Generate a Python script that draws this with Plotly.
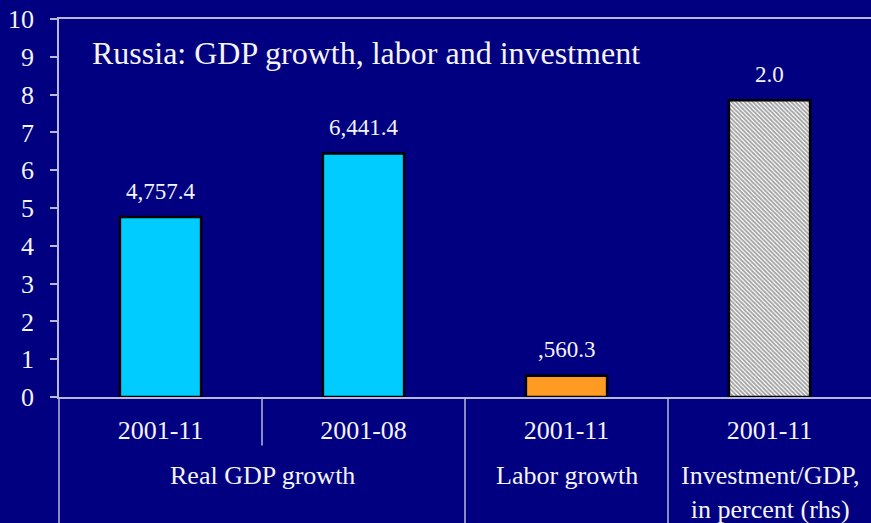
import plotly.graph_objects as go

# Data
periods = ["2001-11", "2001-08", "2001-11", "2001-11"]
values = [4.76, 6.44, 0.56, 7.85]
value_labels = ["4,757.4", "6,441.4", ",560.3", "2.0"]
groups = ["Real GDP growth", "Labor growth", "Investment/GDP,<br>in percent (rhs)"]
group_centers = [0.5, 2, 3]
y_ticks = list(range(0, 11))

BG = "#000080"
TXT = "#f4f4f8"
AXC = "#b8b8d8"
FONT = "Liberation Serif, Times New Roman, serif"

x = list(range(len(values)))
colors = ["#00ccff", "#00ccff", "#ff9a22", "white"]
shapes_pat = ["", "", "", "\\"]

fig = go.Figure()
fig.add_trace(go.Bar(
    x=x, y=values,
    width=0.4,
    marker=dict(
        color=colors,
        line=dict(color="black", width=2.5),
        pattern=dict(shape=shapes_pat, fgcolor="black", bgcolor="white",
                     size=3, solidity=0.6, fillmode="overlay"),
    ),
    hoverinfo="skip",
))

annotations = []
for xi, v, lab in zip(x, values, value_labels):
    annotations.append(dict(x=xi, y=v, xref="x", yref="y", text=lab, showarrow=False,
                            yshift=26, font=dict(family=FONT, size=23, color=TXT)))

n = len(values)
def frac(xv):
    return (xv + 0.5) / n

for gx, g in zip(group_centers, groups):
    annotations.append(dict(x=frac(gx), y=-0.163, xref="paper", yref="paper", text=g,
                            showarrow=False, xanchor="center", yanchor="top", align="center",
                            font=dict(family=FONT, size=26, color=TXT)))

annotations.append(dict(x=0.038, y=0.962, xref="paper", yref="paper",
                        text="Russia: GDP growth, labor and investment",
                        showarrow=False, xanchor="left", yanchor="top",
                        font=dict(family=FONT, size=32, color=TXT)))

shapes = [
    # left axis continues through the category label area
    dict(type="line", xref="paper", yref="paper", x0=0, x1=0, y0=0, y1=-0.34,
         line=dict(color=AXC, width=1.5)),
    # group separators
    dict(type="line", xref="paper", yref="paper", x0=frac(0.5), x1=frac(0.5), y0=0, y1=-0.128,
         line=dict(color=AXC, width=1.5)),
    dict(type="line", xref="paper", yref="paper", x0=frac(1.5), x1=frac(1.5), y0=0, y1=-0.34,
         line=dict(color=AXC, width=1.5)),
    dict(type="line", xref="paper", yref="paper", x0=frac(2.5), x1=frac(2.5), y0=0, y1=-0.34,
         line=dict(color=AXC, width=1.5)),
]

fig.update_layout(
    width=871, height=523,
    margin=dict(l=59, r=0, t=19, b=126),
    paper_bgcolor=BG, plot_bgcolor=BG,
    showlegend=False,
    annotations=annotations,
    shapes=shapes,
    xaxis=dict(
        range=[-0.5, n - 0.5],
        tickvals=x, ticktext=periods,
        ticks="", showgrid=False, zeroline=False,
        showline=True, mirror=True, linecolor=AXC, linewidth=1.5,
        tickfont=dict(family=FONT, size=26, color=TXT),
        ticklabelstandoff=9,
    ),
    yaxis=dict(
        range=[0, 10], tickvals=y_ticks,
        ticks="outside", ticklen=7, tickcolor=AXC, tickwidth=1.5,
        showgrid=False, zeroline=False,
        showline=True, linecolor=AXC, linewidth=1.5,
        tickfont=dict(family=FONT, size=26, color=TXT),
        ticklabelstandoff=11,
    ),
)

fig.write_html("out.html")
